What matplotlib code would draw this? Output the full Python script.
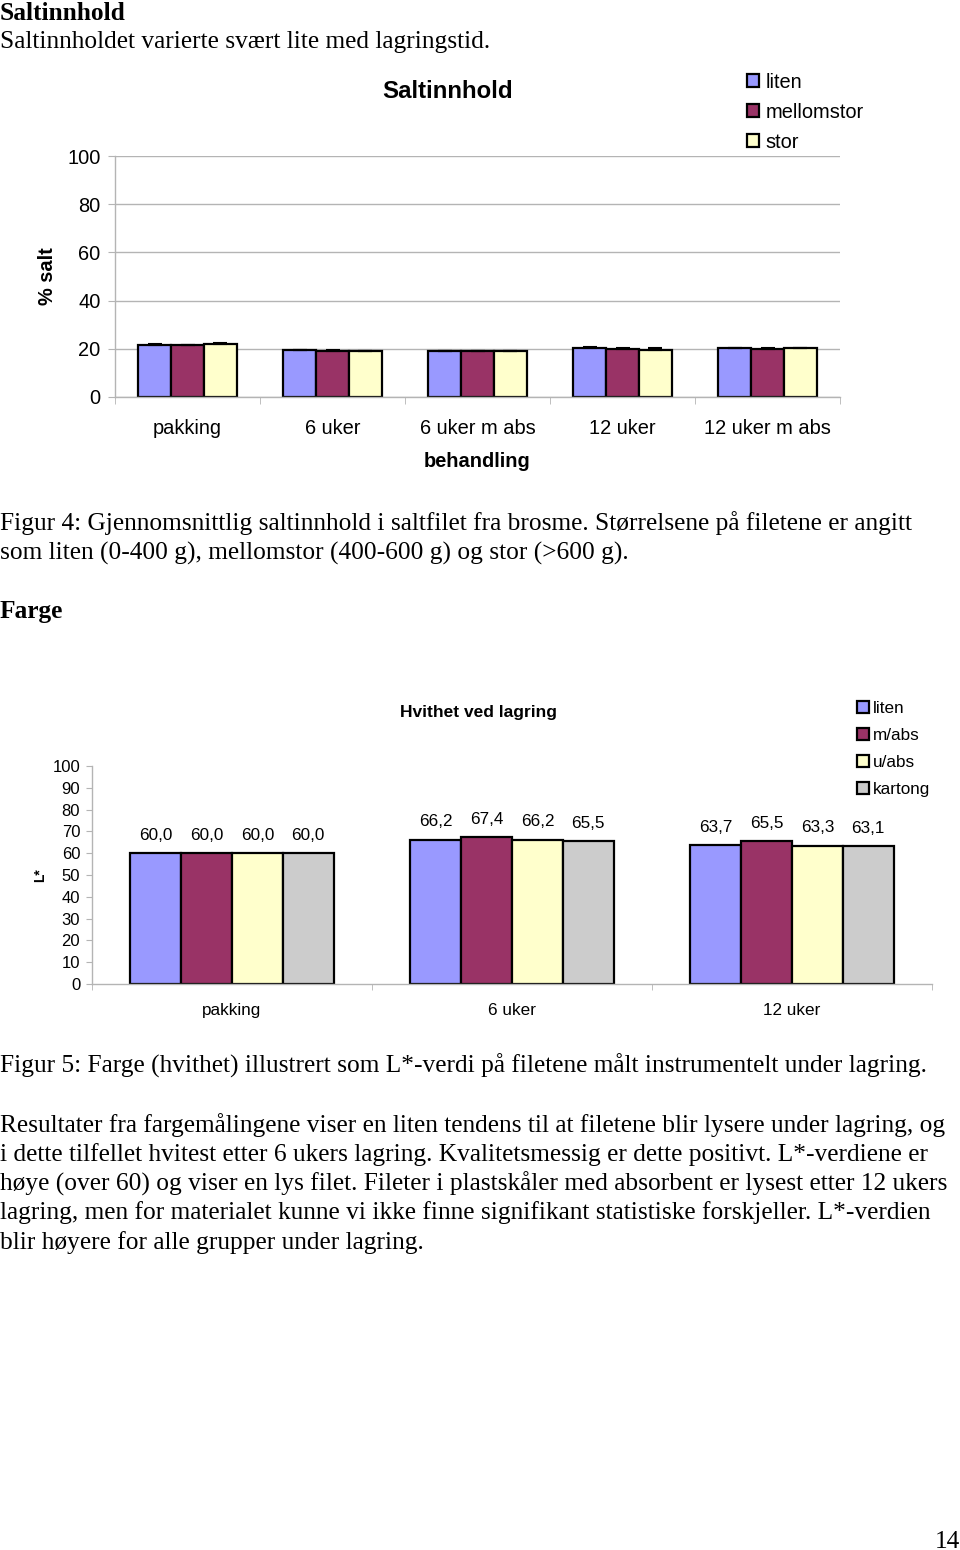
import numpy as np
from matplotlib import pyplot as plt

W, H = 960, 1550

# ---------- data ----------
salt_groups = ['pakking', '6 uker', '6 uker m abs', '12 uker', '12 uker m abs']
salt_sizes = ['liten', 'mellomstor', 'stor']
salt_liten = [21.7, 19.3, 18.9, 20.3, 20.2]
salt_mellom = [21.4, 19.2, 18.9, 20.0, 20.0]
salt_stor = [22.1, 19.0, 19.0, 19.6, 20.3]
salt_err_liten = [0.2, 0.2, 0.1, 0.3, 0.2]
salt_err_mellom = [0.2, 0.2, 0.1, 0.5, 0.2]
salt_err_stor = [0.3, 0.2, 0.1, 0.6, 0.2]

farge_groups = ['pakking', '6 uker', '12 uker']
farge_series = ['liten', 'm/abs', 'u/abs', 'kartong']
farge_liten = [60.0, 66.2, 63.7]
farge_mabs = [60.0, 67.4, 65.5]
farge_uabs = [60.0, 66.2, 63.3]
farge_kartong = [60.0, 65.5, 63.1]

salt_colors = ['#9999FF', '#993366', '#FFFFCC']
farge_colors = ['#9999FF', '#993366', '#FFFFCC', '#CCCCCC']

SANS = 'Liberation Sans'
SERIF = 'Liberation Serif'
GRID = '#B4B4B4'


def px_axes(fig, left, top, right, bottom):
    return fig.add_axes([left / W, 1 - bottom / H,
                         (right - left) / W, (bottom - top) / H])


def style_axes(ax, n, fs, ticklen):
    for s in ['top', 'right']:
        ax.spines[s].set_visible(False)
    for s in ['left', 'bottom']:
        ax.spines[s].set_color(GRID)
        ax.spines[s].set_linewidth(1.0)
    ax.set_xlim(-0.5, n - 0.5)
    ax.set_ylim(0, 100)
    ax.set_xticks(np.arange(n))
    ax.set_xticks(np.arange(n + 1) - 0.5, minor=True)
    ax.tick_params(axis='x', which='major', length=0)
    ax.tick_params(axis='x', which='minor', length=ticklen, color=GRID)
    ax.tick_params(axis='y', length=ticklen, color=GRID, labelsize=fs)
    for lab in ax.get_yticklabels() + ax.get_xticklabels():
        lab.set_fontfamily(SANS)


fig = plt.figure(figsize=(W / 100, H / 100), dpi=100)
fig.patch.set_facecolor('white')


def ftext(x, y, s, size=18.3, bold=False, **kw):
    fig.text(x / W, 1 - (y + 2) / H, s, fontsize=size, family=SERIF,
             fontweight='bold' if bold else 'normal', va='center', **kw)


# ---------- document text ----------
ftext(0, 12, 'Saltinnhold', bold=True)
ftext(0, 40, 'Saltinnholdet varierte svært lite med lagringstid.')
ftext(0, 521, 'Figur 4: Gjennomsnittlig saltinnhold i saltfilet fra brosme. '
              'Størrelsene på filetene er angitt')
ftext(0, 551, 'som liten (0-400 g), mellomstor (400-600 g) og stor (>600 g).')
ftext(0, 610, 'Farge', bold=True)
ftext(0, 1064, 'Figur 5: Farge (hvithet) illustrert som L*-verdi på filetene '
               'målt instrumentelt under lagring.')
para = ['Resultater fra fargemålingene viser en liten tendens til at filetene '
        'blir lysere under lagring, og',
        'i dette tilfellet hvitest etter 6 ukers lagring. Kvalitetsmessig er '
        'dette positivt. L*-verdiene er',
        'høye (over 60) og viser en lys filet. Fileter i plastskåler med '
        'absorbent er lysest etter 12 ukers',
        'lagring, men for materialet kunne vi ikke finne signifikant '
        'statistiske forskjeller. L*-verdien',
        'blir høyere for alle grupper under lagring.']
for i, line in enumerate(para):
    ftext(0, 1123 + i * 29.3, line)
ftext(960, 1540, '14', ha='right')

# ---------- chart 1: Saltinnhold ----------
ax1 = px_axes(fig, 115, 156, 840, 397)
style_axes(ax1, len(salt_groups), 14.4, 5)
ax1.set_yticks(np.arange(0, 101, 20))
ax1.yaxis.grid(True, color=GRID, linewidth=1.0)
ax1.set_axisbelow(True)
x = np.arange(len(salt_groups))
w = 0.2255
vals = [salt_liten, salt_mellom, salt_stor]
errs = [salt_err_liten, salt_err_mellom, salt_err_stor]
for i in range(3):
    ax1.bar(x + (i - 1) * w, vals[i], w, color=salt_colors[i],
            edgecolor='black', linewidth=1.6, label=salt_sizes[i],
            yerr=[np.zeros(len(x)), errs[i]], capsize=5,
            error_kw=dict(ecolor='black', elinewidth=1.2, capthick=1.5))
ax1.set_xticklabels(salt_groups, fontsize=14.4, family=SANS)
ax1.tick_params(axis='x', which='major', pad=15.5)
ax1.set_xlabel('behandling', fontsize=14.4, family=SANS, fontweight='bold',
               labelpad=10.5)
ax1.set_ylabel('% salt', fontsize=14.4, family=SANS, fontweight='bold',
               labelpad=7)
ax1.tick_params(axis='y', pad=5.5)
fig.text(448 / W, 1 - 91 / H, 'Saltinnhold', fontsize=17.3, family=SANS,
         fontweight='bold', ha='center', va='center')
leg1 = ax1.legend(loc='upper left', bbox_to_anchor=(747 / W, 1 - 73 / H),
                  bbox_transform=fig.transFigure, frameon=False,
                  prop=dict(family=SANS, size=14.4), handlelength=0.62,
                  handleheight=0.62, handletextpad=0.3, labelspacing=0.54,
                  borderpad=0, borderaxespad=0)
for p in leg1.get_patches():
    p.set_linewidth(1.6)

# ---------- chart 2: Hvithet ved lagring ----------
ax2 = px_axes(fig, 92, 766, 932, 984)
style_axes(ax2, len(farge_groups), 12, 4)
ax2.set_yticks(np.arange(0, 101, 10))
x2 = np.arange(len(farge_groups))
w2 = 0.1813
fvals = [farge_liten, farge_mabs, farge_uabs, farge_kartong]
for i in range(4):
    bars = ax2.bar(x2 + (i - 1.5) * w2, fvals[i], w2, color=farge_colors[i],
                   edgecolor='black', linewidth=1.6, label=farge_series[i])
    for b, v in zip(bars, fvals[i]):
        ax2.annotate(f'{v:.1f}'.replace('.', ','),
                     (b.get_x() + b.get_width() / 2, v),
                     xytext=(0, 13), textcoords='offset points',
                     ha='center', va='center', fontsize=12.3, family=SANS)
ax2.set_xticklabels(farge_groups, fontsize=12.3, family=SANS)
ax2.tick_params(axis='x', which='major', pad=13.5)
ax2.tick_params(axis='y', pad=4.5)
ax2.set_ylabel('L*', fontsize=10, family=SANS, fontweight='bold', labelpad=4)
fig.text(479 / W, 1 - 712 / H, 'Hvithet ved lagring', fontsize=12.5,
         family=SANS, fontweight='bold', ha='center', va='center')
leg2 = ax2.legend(loc='upper left', bbox_to_anchor=(857 / W, 1 - 701 / H),
                  bbox_transform=fig.transFigure, frameon=False,
                  prop=dict(family=SANS, size=12.3), handlelength=0.7,
                  handleheight=0.7, handletextpad=0.25, labelspacing=0.70,
                  borderpad=0, borderaxespad=0)
for p in leg2.get_patches():
    p.set_linewidth(1.6)

fig.savefig('out.png', dpi=100, facecolor='white')
